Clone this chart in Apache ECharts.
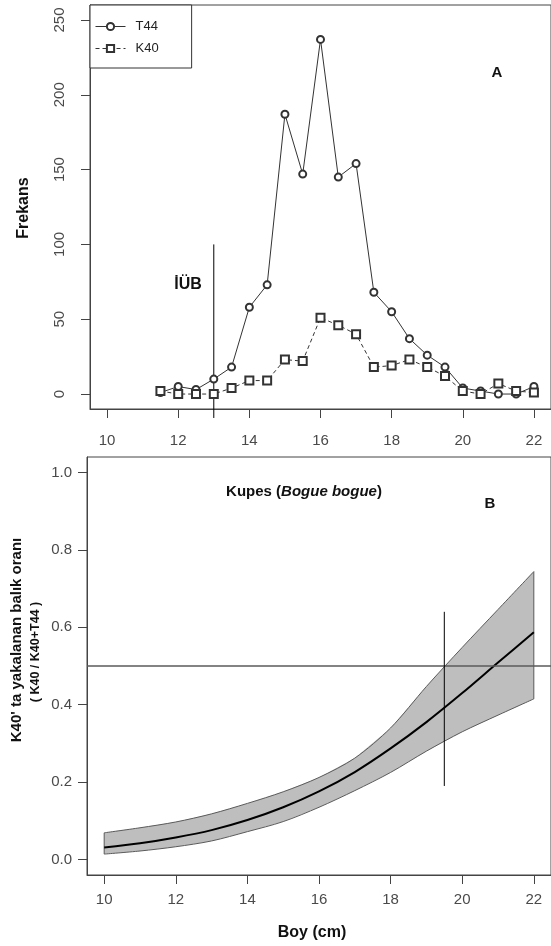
<!DOCTYPE html>
<html>
<head>
<meta charset="utf-8">
<script src="https://cdn.jsdelivr.net/npm/echarts@6/dist/echarts.min.js"></script>
<style>html,body{margin:0;padding:0;background:#fff;}#c{width:551px;height:946px;}</style>
</head>
<body>
<div id="c"></div>
<script>
// ---- Panel A data ----
var lengthsA = [11.5,12,12.5,13,13.5,14,14.5,15,15.5,16,16.5,17,17.5,18,18.5,19,19.5,20,20.5,21,21.5,22];
var t44 = [1,5,3,10,18,58,73,187,147,237,145,154,68,55,37,26,18,4,2,0,0,5];
var k40 = [2,0,0,0,4,9,9,23,22,51,46,40,18,19,23,18,12,2,0,7,2,1];
var xTicksA = [10,12,14,16,18,20,22];
var yTicksA = [0,50,100,150,200,250];
var iubX = 13, iubTop = 100, iubBottom = -16;

// ---- Panel B data ----
var boyX = [10,11,12,13,14,15,16,17,18,19,20,21,22];
var fitCenter = [0.031,0.042,0.057,0.076,0.102,0.135,0.176,0.226,0.287,0.355,0.430,0.509,0.587];
var fitUpper = [0.069,0.082,0.097,0.118,0.145,0.175,0.212,0.262,0.340,0.447,0.548,0.646,0.744];
var fitLower = [0.014,0.022,0.033,0.048,0.072,0.098,0.135,0.178,0.225,0.280,0.330,0.373,0.415];
var xTicksB = [10,12,14,16,18,20,22];
var yTicksB = [0,0.2,0.4,0.6,0.8,1.0];
var l50X = 19.5, l50Low = 0.19, l50High = 0.64;
var halfLine = 0.5;

var FONT = 'Liberation Sans, Arial, sans-serif';
var AX = '#444';
var LBL = '#4a4a4a';
var EDGE = '#5a5a5a';

function pairs(xs, ys){ return xs.map(function(x,i){ return [x, ys[i]]; }); }

var chart = echarts.init(document.getElementById('c'), null, {renderer:'canvas'});

function axisCommon(ticks, margin, rotate, fmt){
  return {
    axisLine:{show:true, onZero:false, lineStyle:{color:AX, width:1}},
    axisTick:{show:true, inside:false, length:9, customValues:ticks, lineStyle:{color:AX, width:1}},
    axisLabel:{show:true, customValues:ticks, margin:margin, rotate:rotate||0, color:LBL, fontSize:15, fontFamily:FONT, formatter:fmt},
    splitLine:{show:false}
  };
}

var xa0 = Object.assign({type:'value', gridIndex:0, min:9.52, max:22.48}, axisCommon(xTicksA, 24, 0, function(v){return String(v);}));
var xa1 = Object.assign({type:'value', gridIndex:1, min:9.52, max:22.48}, axisCommon(xTicksB, 17, 0, function(v){return String(v);}));
var ya0 = Object.assign({type:'value', gridIndex:0, min:-10, max:260}, axisCommon(yTicksA, 23, 90, function(v){return String(v);}));
var ya1 = Object.assign({type:'value', gridIndex:1, min:-0.04, max:1.04}, axisCommon(yTicksB, 15, 0, function(v){return v.toFixed(1);}));

var option = {
  animation:false,
  backgroundColor:'#fff',
  grid:[
    {left:90, top:5, right:-3, bottom:537, show:true, borderColor:AX, borderWidth:1, backgroundColor:'transparent'},
    {left:87, top:457, right:-7, bottom:71, show:true, borderColor:AX, borderWidth:1, backgroundColor:'transparent'}
  ],
  xAxis:[xa0, xa1],
  yAxis:[ya0, ya1],
  legend:{
    data:['T44','K40'],
    orient:'vertical',
    left:90, top:5,
    padding:[15,33,13,5],
    itemWidth:30, itemHeight:9, itemGap:9,
    borderColor:'#333', borderWidth:1, borderRadius:0,
    backgroundColor:'#fff',
    lineStyle:{width:1},
    itemStyle:{borderWidth:1},
    textStyle:{fontSize:13, color:'#222', fontFamily:FONT, padding:[0,0,0,5]}
  },
  series:[
    {
      name:'T44', type:'line', xAxisIndex:0, yAxisIndex:0,
      data:pairs(lengthsA, t44),
      symbol:'emptyCircle', symbolSize:7,
      lineStyle:{color:'#333', width:1, type:'solid'},
      itemStyle:{color:'#333', borderWidth:1},
      z:3
    },
    {
      name:'K40', type:'line', xAxisIndex:0, yAxisIndex:0,
      data:pairs(lengthsA, k40),
      symbol:'emptyRect', symbolSize:8,
      lineStyle:{color:'#333', width:1, type:[4,3]},
      itemStyle:{color:'#333', borderWidth:1},
      z:3
    },
    {
      name:'iub', type:'line', xAxisIndex:0, yAxisIndex:0,
      data:[[iubX, iubTop],[iubX, iubBottom]],
      symbol:'none', clip:false, silent:true,
      lineStyle:{color:'#000', width:1}, z:2
    },
    {
      name:'band', type:'custom', xAxisIndex:1, yAxisIndex:1,
      data:[[boyX[0], fitLower[0]]],
      silent:true, z:1,
      renderItem:function(params, api){
        var pts = [];
        for (var i=0;i<boyX.length;i++) pts.push(api.coord([boyX[i], fitUpper[i]]));
        for (var j=boyX.length-1;j>=0;j--) pts.push(api.coord([boyX[j], fitLower[j]]));
        var n = boyX.length - 1;
        return {type:'group', children:[
          {type:'polygon', shape:{points:pts, smooth:0}, style:{fill:'#bebebe', stroke:null}},
          {type:'line', shape:{x1:pts[0][0], y1:pts[0][1], x2:pts[pts.length-1][0], y2:pts[pts.length-1][1]}, style:{stroke:EDGE, lineWidth:1}},
          {type:'line', shape:{x1:pts[n][0], y1:pts[n][1], x2:pts[n+1][0], y2:pts[n+1][1]}, style:{stroke:EDGE, lineWidth:1}}
        ]};
      }
    },
    {
      name:'upperEdge', type:'line', xAxisIndex:1, yAxisIndex:1,
      data:pairs(boyX, fitUpper), symbol:'none', smooth:0.3, silent:true,
      lineStyle:{color:EDGE, width:1}, z:2
    },
    {
      name:'lowerEdge', type:'line', xAxisIndex:1, yAxisIndex:1,
      data:pairs(boyX, fitLower), symbol:'none', smooth:0.3, silent:true,
      lineStyle:{color:EDGE, width:1}, z:2
    },
    {
      name:'fit', type:'line', xAxisIndex:1, yAxisIndex:1,
      data:pairs(boyX, fitCenter),
      symbol:'none', smooth:0.3,
      lineStyle:{color:'#000', width:2}, z:4,
      markLine:{
        silent:true, symbol:'none', label:{show:false},
        lineStyle:{color:'#5a5a5a', width:1.5, type:'solid'},
        data:[{yAxis:halfLine}]
      }
    },
    {
      name:'l50', type:'line', xAxisIndex:1, yAxisIndex:1,
      data:[[l50X, l50Low],[l50X, l50High]],
      symbol:'none', silent:true,
      lineStyle:{color:'#000', width:1}, z:5
    }
  ],
  graphic:[
    {type:'text', x:24, y:208, rotation:Math.PI/2, style:{text:'Frekans', fontSize:16, fontWeight:'bold', fontFamily:FONT, fill:'#111', align:'center', verticalAlign:'middle'}},
    {type:'text', x:497, y:73, style:{text:'A', fontSize:15, fontWeight:'bold', fontFamily:FONT, fill:'#111', align:'center', verticalAlign:'middle'}},
    {type:'text', x:188, y:285, style:{text:'İÜB', fontSize:16, fontWeight:'bold', fontFamily:FONT, fill:'#111', align:'center', verticalAlign:'middle'}},
    {type:'text', x:304, y:492, style:{text:'{a|Kupes (}{b|Bogue bogue}{a|)}', align:'center', verticalAlign:'middle',
      rich:{a:{fontSize:15, fontWeight:'bold', fontFamily:FONT, fill:'#111'}, b:{fontSize:15, fontWeight:'bold', fontStyle:'italic', fontFamily:FONT, fill:'#111'}}}},
    {type:'text', x:490, y:504, style:{text:'B', fontSize:15, fontWeight:'bold', fontFamily:FONT, fill:'#111', align:'center', verticalAlign:'middle'}},
    {type:'text', x:17, y:640, rotation:Math.PI/2, style:{text:"K40' ta yakalanan balık oranı", fontSize:15, fontWeight:'bold', fontFamily:FONT, fill:'#111', align:'center', verticalAlign:'middle'}},
    {type:'text', x:36, y:652, rotation:Math.PI/2, style:{text:'( K40 / K40+T44 )', fontSize:12.5, fontWeight:'bold', fontFamily:FONT, fill:'#111', align:'center', verticalAlign:'middle'}},
    {type:'text', x:312, y:933, style:{text:'Boy (cm)', fontSize:16, fontWeight:'bold', fontFamily:FONT, fill:'#111', align:'center', verticalAlign:'middle'}}
  ]
};
chart.setOption(option);
</script>
</body>
</html>
